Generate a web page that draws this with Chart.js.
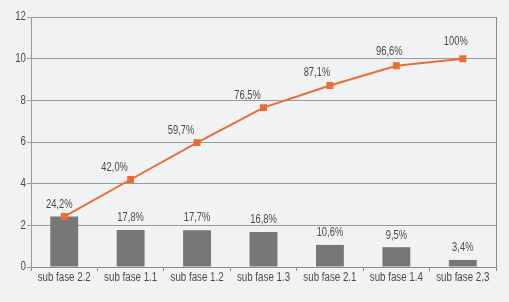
<!DOCTYPE html>
<html>
<head>
<meta charset="utf-8">
<script src="https://cdn.jsdelivr.net/npm/chart.js@4.4.1/dist/chart.umd.min.js"></script>
<style>
  html, body { margin: 0; padding: 0; background: #f1f2f4; }
  #wrap { width: 509px; height: 302px; }
</style>
</head>
<body>
<div id="wrap"><canvas id="myChart" width="509" height="302"></canvas></div>
<script>
'use strict'

const categories = ['sub fase 2.2', 'sub fase 1.1', 'sub fase 1.2', 'sub fase 1.3', 'sub fase 2.1', 'sub fase 1.4', 'sub fase 2.3'];
const barValues = [2.42, 1.78, 1.77, 1.68, 1.06, 0.95, 0.34];
const lineValues = [2.42, 4.20, 5.97, 7.65, 8.71, 9.66, 10.0];
const barLabels = ['', '17,8%', '17,7%', '16,8%', '10,6%', '9,5%', '3,4%'];
const lineLabels = ['24,2%', '42,0%', '59,7%', '76,5%', '87,1%', '96,6%', '100%'];
const yTicks = [0, 2, 4, 6, 8, 10, 12];

const fontFam = '"Liberation Sans", Arial, sans-serif';
const textCol = '#4a4a4a';
const squeeze = 0.78; // reference uses a condensed face

// draw condensed text centred/aligned at x
function narrowText(ctx, txt, x, y, align) {
    ctx.save();
    ctx.translate(x, y);
    ctx.scale(squeeze, 1);
    ctx.textAlign = align || 'center';
    ctx.fillText(txt, 0, 0);
    ctx.restore();
}

const labelPlugin = {
    id: 'valueLabels',
    afterDatasetsDraw(chart) {
        const ctx = chart.ctx;
        const a = chart.chartArea;
        ctx.save();
        ctx.fillStyle = textCol;
        ctx.textBaseline = 'middle';

        // axis labels
        ctx.font = '12.5px ' + fontFam;
        const xs = chart.scales.x;
        categories.forEach((c, i) => {
            narrowText(ctx, c, xs.getPixelForTick(i), a.bottom + 11, 'center');
        });
        const ys = chart.scales.y;
        yTicks.forEach(v => {
            narrowText(ctx, String(v), a.left - 5, ys.getPixelForValue(v), 'right');
        });

        // value labels
        ctx.font = '12px ' + fontFam;
        const bars = chart.getDatasetMeta(0).data;
        bars.forEach((b, i) => {
            if (barLabels[i]) narrowText(ctx, barLabels[i], b.x, b.y - 12);
        });
        const dx = [-5, -16, -16, -16, -13, -7, -7];
        const dy = [-12, -12, -12, -12, -13, -14, -17];
        const pts = chart.getDatasetMeta(1).data;
        pts.forEach((p, i) => {
            narrowText(ctx, lineLabels[i], p.x + dx[i], p.y + dy[i]);
        });
        ctx.restore();
    }
};

// right-hand border line of the plot
const borderPlugin = {
    id: 'rightBorder',
    beforeDatasetsDraw(chart) {
        const a = chart.chartArea;
        const ctx = chart.ctx;
        ctx.save();
        ctx.strokeStyle = '#8c8c8c';
        ctx.lineWidth = 1;
        ctx.beginPath();
        ctx.moveTo(Math.round(a.right) + 0.5, a.top);
        ctx.lineTo(Math.round(a.right) + 0.5, a.bottom + 4);
        ctx.stroke();
        ctx.restore();
    }
};

const ctx = document.getElementById('myChart');

new Chart(ctx, {
    data: {
        labels: categories,
        datasets: [{
            type: 'bar',
            data: barValues,
            backgroundColor: '#777777',
            barPercentage: 0.84,
            categoryPercentage: 0.5,
            order: 2
        }, {
            type: 'line',
            data: lineValues,
            borderColor: '#ea6d35',
            backgroundColor: '#ea6d35',
            borderWidth: 2,
            pointStyle: 'rect',
            pointRadius: 3.5,
            pointHoverRadius: 3.5,
            tension: 0,
            order: 1
        }]
    },
    options: {
        responsive: false,
        animation: false,
        layout: { padding: { top: 17, right: 13, left: 0, bottom: 0 } },
        plugins: {
            legend: { display: false },
            tooltip: { enabled: false }
        },
        scales: {
            x: {
                afterFit(scale) { scale.height = 35; },
                grid: {
                    display: true,
                    drawOnChartArea: false,
                    drawTicks: true,
                    tickLength: 4,
                    color: '#8c8c8c',
                    offset: true
                },
                border: { display: true, color: '#8c8c8c' },
                ticks: { color: 'rgba(0,0,0,0)', font: { size: 8 }, maxRotation: 0 }
            },
            y: {
                min: 0,
                max: 12,
                afterFit(scale) { scale.width = 31; },
                afterBuildTicks(scale) {
                    scale.ticks = yTicks.map(v => ({ value: v }));
                },
                grid: {
                    color: '#9a9a9a',
                    tickLength: 4,
                    lineWidth: 1
                },
                border: { display: true, color: '#9a9a9a' },
                ticks: { color: 'rgba(0,0,0,0)', font: { size: 8 } }
            }
        }
    },
    plugins: [labelPlugin, borderPlugin]
});
</script>
</body>
</html>
